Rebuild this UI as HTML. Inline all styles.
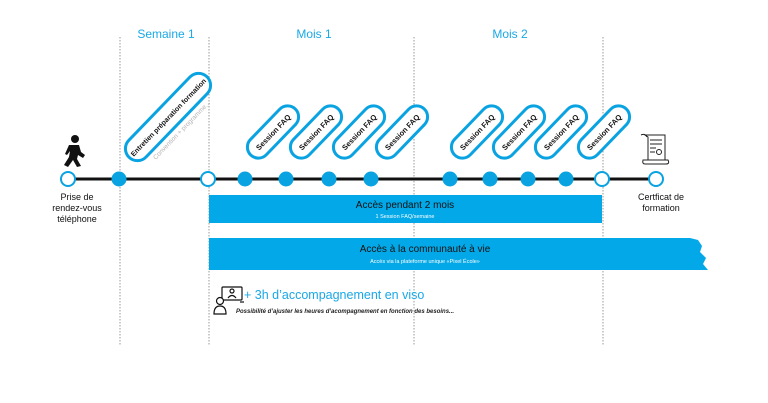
<!DOCTYPE html>
<html><head><meta charset="utf-8"><style>
html,body{margin:0;padding:0;background:#fff;}
svg{display:block;font-family:"Liberation Sans",sans-serif;}
</style></head><body>
<svg width="768" height="403" viewBox="0 0 768 403">
<defs>
<g id="pill"><rect x="-32" y="-11" width="64" height="22" rx="11" fill="#fff" stroke="#0aa3e2" stroke-width="3"/><text x="0" y="3" font-size="7.5" text-anchor="middle" fill="#111" font-weight="bold">Session FAQ</text></g>
</defs>
<g stroke="#9a9a9a" stroke-width="1" stroke-dasharray="1.5,1.5">
<line x1="120" y1="37" x2="120" y2="345"/><line x1="209" y1="37" x2="209" y2="345"/>
<line x1="414" y1="37" x2="414" y2="345"/><line x1="603" y1="37" x2="603" y2="345"/>
</g>
<g fill="#19a8e6" font-size="12" text-anchor="middle">
<text x="166" y="38">Semaine 1</text><text x="314" y="38">Mois 1</text><text x="510" y="38">Mois 2</text>
</g>
<!-- bars -->
<rect x="209" y="195" width="393" height="28" fill="#02a8e7"/>
<text x="405" y="208" font-size="10" text-anchor="middle" fill="#111">Accès pendant 2 mois</text>
<text x="405" y="218" font-size="5.5" text-anchor="middle" fill="#fff">1 Session FAQ/semaine</text>
<path d="M209 238 H690 L698 240 L702 246 L700 252 L706 258 L703 264 L708 270 H209 Z" fill="#02a8e7"/>
<text x="425" y="252" font-size="10" text-anchor="middle" fill="#111">Accès à la communauté à vie</text>
<text x="425" y="263" font-size="5.5" text-anchor="middle" fill="#fff">Accès via la plateforme unique «Pixel École»</text>
<!-- timeline -->
<line x1="68" y1="179" x2="656" y2="179" stroke="#111" stroke-width="3"/>
<g fill="#fff" stroke="#0aa3e2" stroke-width="2">
<circle cx="68" cy="179" r="7"/><circle cx="208" cy="179" r="7"/><circle cx="602" cy="179" r="7"/><circle cx="656" cy="179" r="7"/>
</g>
<g fill="#0aa3e2">
<circle cx="119" cy="179" r="7.5"/><circle cx="245" cy="179" r="7.5"/><circle cx="286" cy="179" r="7.5"/><circle cx="329" cy="179" r="7.5"/><circle cx="371" cy="179" r="7.5"/>
<circle cx="450" cy="179" r="7.5"/><circle cx="490" cy="179" r="7.5"/><circle cx="528" cy="179" r="7.5"/><circle cx="566" cy="179" r="7.5"/>
</g>
<!-- pills -->
<g transform="translate(168,117) rotate(-46)">
<rect x="-56" y="-12" width="112" height="24" rx="12" fill="#fff" stroke="#0aa3e2" stroke-width="3"/>
<text x="0" y="3" font-size="7" text-anchor="middle" fill="#111" font-weight="bold">Entretien préparation formation</text>
<text x="0" y="21" font-size="6.5" text-anchor="middle" fill="#b5b5b5">Convention + programme...</text>
</g>
<use href="#pill" transform="translate(273,132) rotate(-46)"/>
<use href="#pill" transform="translate(316,132) rotate(-46)"/>
<use href="#pill" transform="translate(359,132) rotate(-46)"/>
<use href="#pill" transform="translate(402,132) rotate(-46)"/>
<use href="#pill" transform="translate(477,132) rotate(-46)"/>
<use href="#pill" transform="translate(519,132) rotate(-46)"/>
<use href="#pill" transform="translate(561,132) rotate(-46)"/>
<use href="#pill" transform="translate(604,132) rotate(-46)"/>
<!-- walker -->
<g fill="#111">
<circle cx="75" cy="139" r="4"/>
<path d="M69 145 L79 145 L81 152 L85 155 L83 158 L78 155 L77 159 L81 166 L77 167 L73 160 L68 167 L64 165 L69 157 L70 151 L67 155 L65 154 Z"/>
</g>
<!-- certificate -->
<g stroke="#222" stroke-width="1" fill="#fff">
<path d="M645 135 H665 V160 H648 V137 Z"/>
<path d="M643 160 H668 Q670 164 666 164 H645 Q642 164 643 160 Z"/>
<path d="M641 135 Q645 133 647 137" fill="none"/>
<line x1="650" y1="140" x2="662" y2="140"/><line x1="650" y1="144" x2="662" y2="144"/><line x1="650" y1="148" x2="656" y2="148"/><line x1="650" y1="152" x2="655" y2="152"/>
<circle cx="659" cy="152" r="2.5"/>
</g>
<!-- labels -->
<g font-size="9" text-anchor="middle" fill="#111">
<text x="77" y="200">Prise de</text><text x="77" y="211">rendez-vous</text><text x="77" y="222">téléphone</text>
<text x="661" y="200">Certficat de</text><text x="661" y="211">formation</text>
</g>
<!-- viso -->
<g stroke="#111" stroke-width="1.2" fill="none">
<rect x="222" y="287" width="20" height="13" rx="1"/>
<circle cx="232" cy="291" r="2"/><path d="M228 298 Q232 293 236 298"/>
<line x1="240" y1="302" x2="244" y2="302"/>
<circle cx="220" cy="301" r="3.5" fill="#fff"/>
<path d="M214 314 Q214 306 220 306 Q226 306 226 314 Z" fill="#fff"/>
</g>
<text x="244" y="299" font-size="12.5" fill="#19a8e6">+ 3h d’accompagnement en viso</text>
<text x="236" y="313" font-size="6" font-style="italic" font-weight="bold" fill="#222">Possibilité d’ajuster les heures d’acompagnement en fonction des besoins...</text>
</svg>
</body></html>
